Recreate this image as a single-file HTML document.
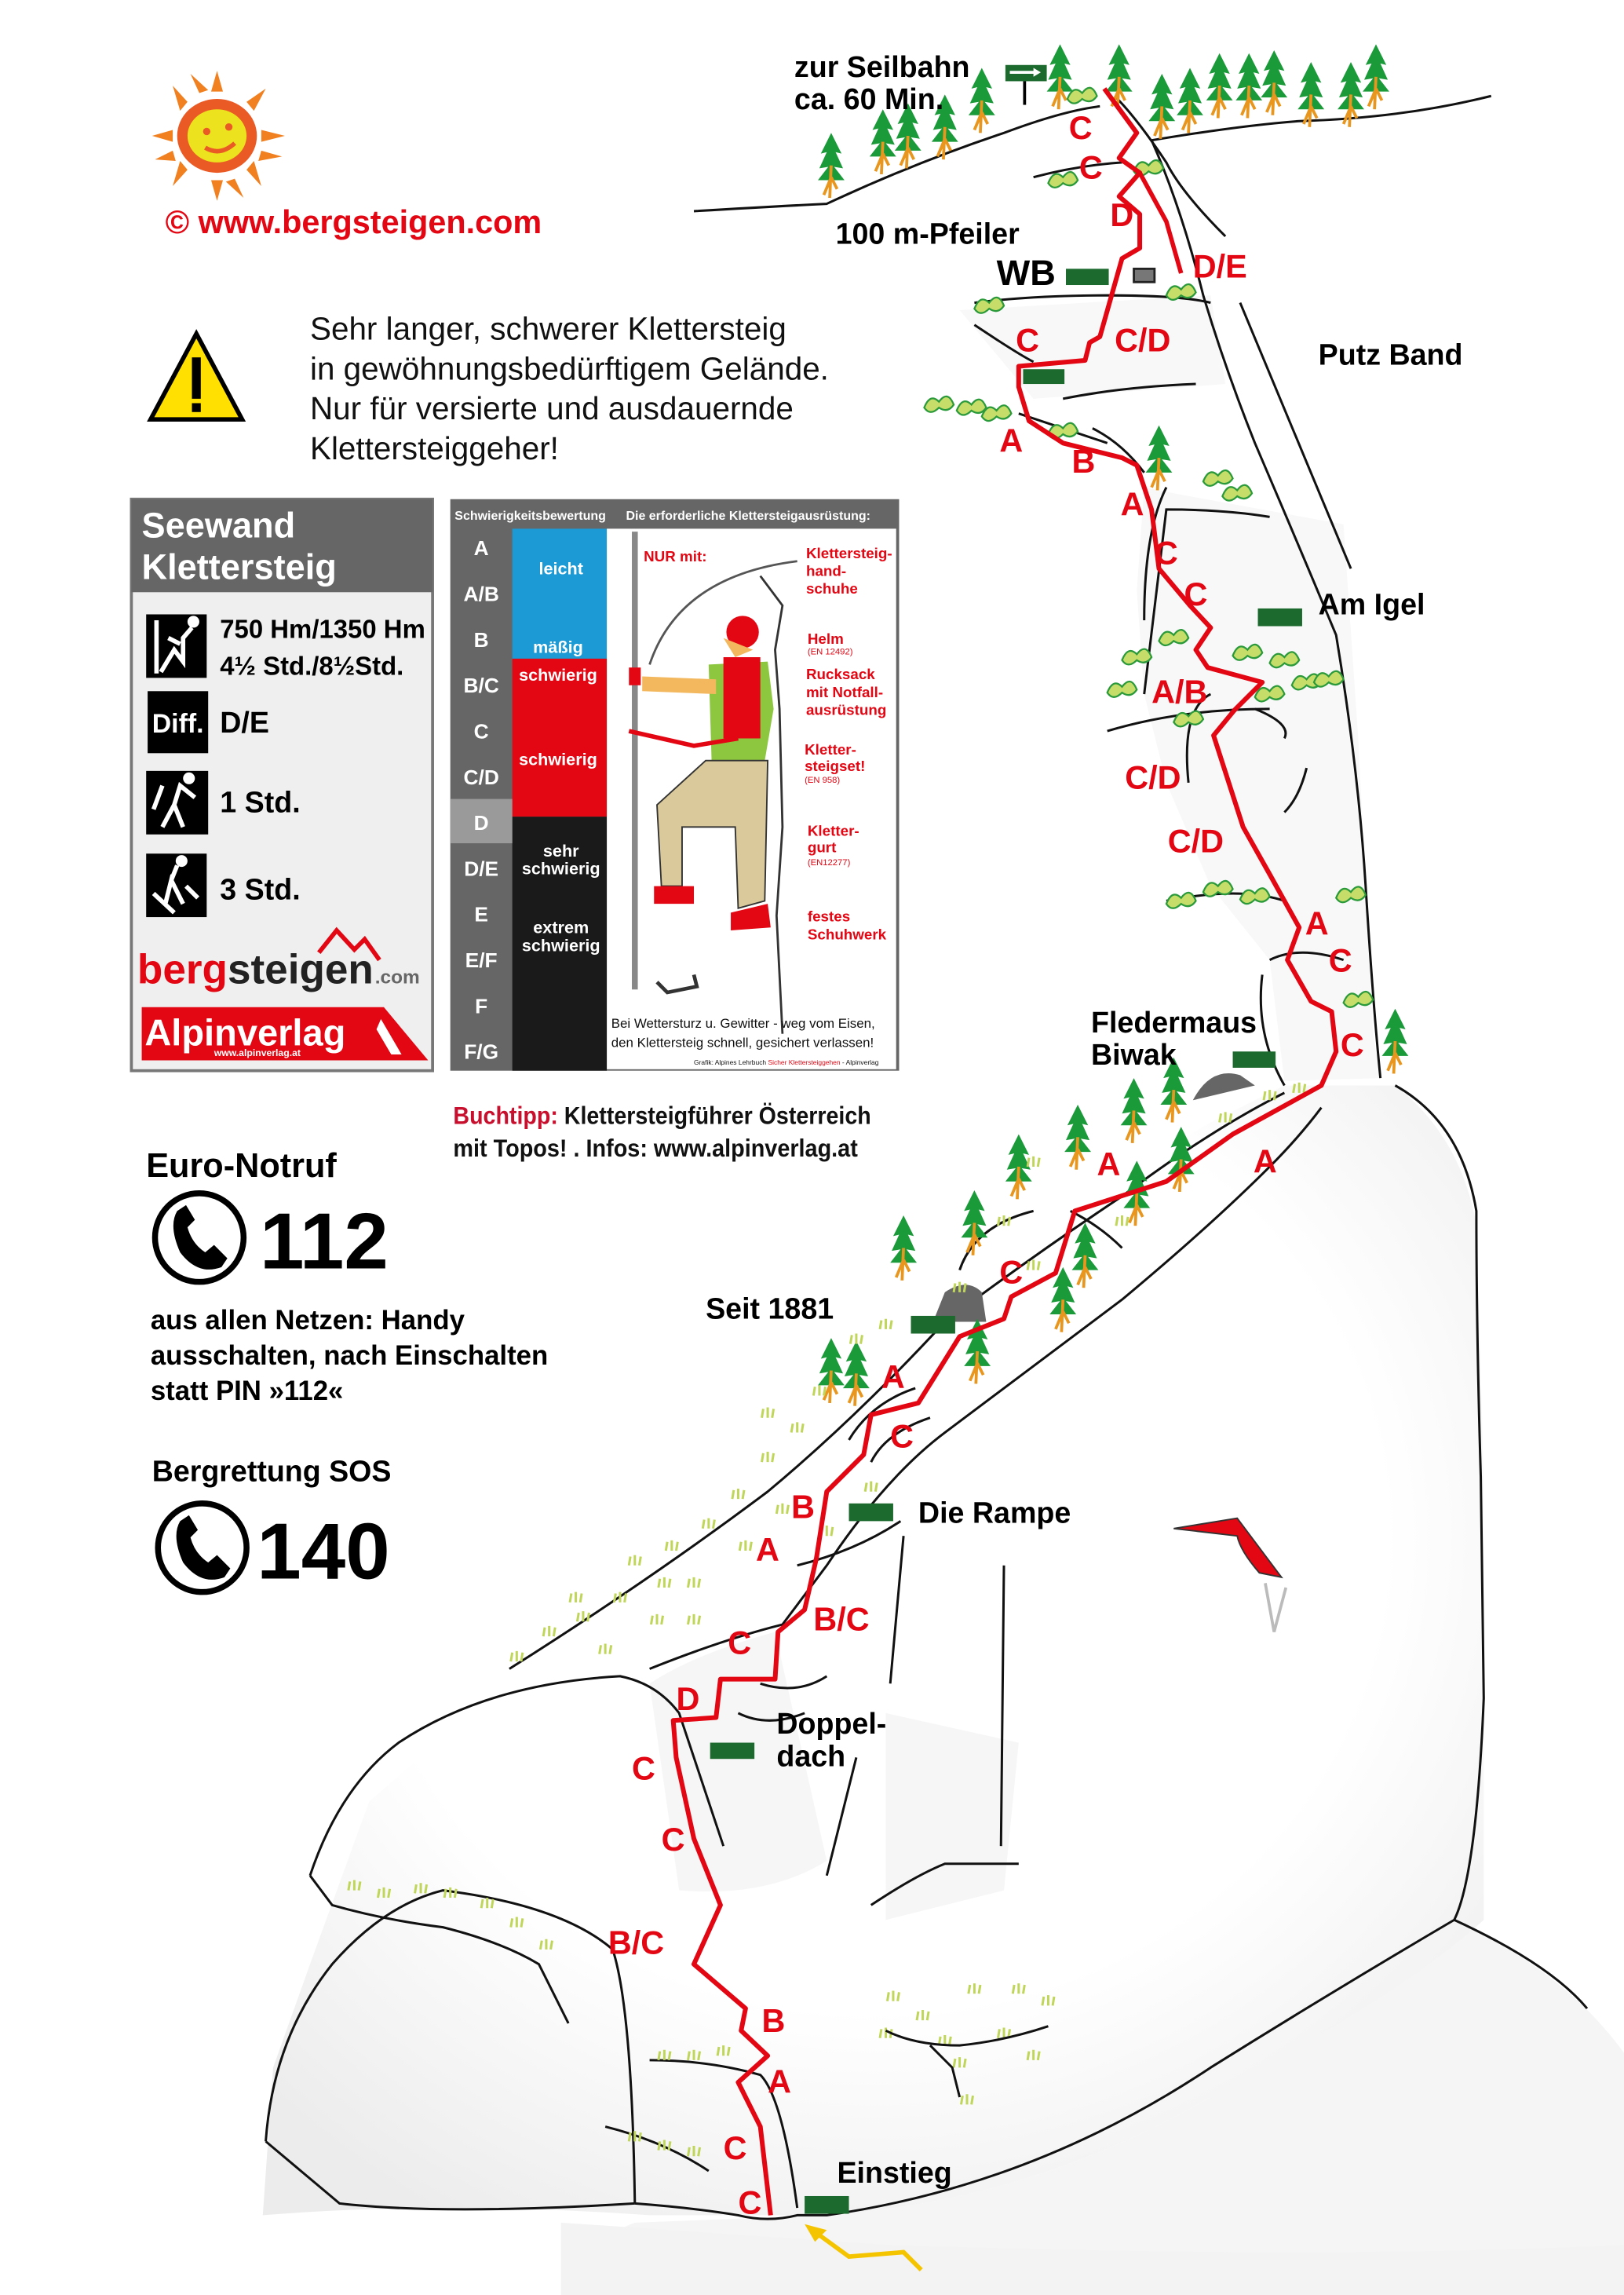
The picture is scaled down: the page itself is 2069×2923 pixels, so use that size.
<!DOCTYPE html>
<html><head><meta charset="utf-8"><style>
html,body{margin:0;padding:0;background:#fff;}
svg{display:block;}
text{font-family:"Liberation Sans",sans-serif;}
.b{font-weight:bold;}
.r{fill:#e30613;font-weight:bold;font-size:22px;}
.k{fill:#000;font-weight:bold;font-size:20px;}
.ln{fill:none;stroke:#111;stroke-width:1.6;}
.gr{fill:#1d6a2e;}
</style></head><body>
<svg width="2069" height="2923" viewBox="0 0 1100 1554" preserveAspectRatio="none" xmlns="http://www.w3.org/2000/svg">
<defs>
<g id="tree"><path d="M0,-22 L-7,-8 L-3,-9 L-8,2 L-2,1 L-9,10 L9,10 L2,1 L8,2 L3,-9 L7,-8 Z" fill="#1b9a3a"/><path d="M0,0 L-1,22 M0,8 L-5,20 M0,8 L4,16" stroke="#e8961e" stroke-width="2" fill="none"/></g>
<g id="bush"><path d="M-10,4 q4,-10 10,-4 q6,-8 10,2 q-4,6 -10,2 q-6,6 -10,0z" fill="#c7dd6a" stroke="#2a9a3a" stroke-width="1.2"/></g>
<g id="gs"><path d="M-4,0 L-3,-6 M0,0 L0,-7 M3,0 L4,-6" stroke="#c0d65a" stroke-width="1.6"/></g>
<radialGradient id="rg" cx="0.5" cy="0.4" r="0.7"><stop offset="0.6" stop-color="#ffffff"/><stop offset="1" stop-color="#ececec"/></radialGradient>
</defs>

<!-- rubble bottom right -->
<path d="M985,1300 Q1060,1335 1100,1390 L1100,1554 L380,1554 Q390,1520 430,1505 L560,1500 Q700,1490 820,1420 Q900,1360 985,1300 Z" fill="#f5f5f5"/>
<path d="M380,1505 L380,1554 L1100,1554 L1100,1520 Q900,1530 600,1520 Z" fill="#f3f3f3"/>
<!-- main rock mass -->
<path d="M178,1500 L185,1400 L210,1330 L250,1220 L330,1150 L345,1130 L420,1090 L500,1020 L560,960 L640,890 L720,820 L820,760 L870,735 L945,735 Q990,770 1000,830 L1005,1000 L1005,1300 Q950,1350 820,1420 Q700,1490 560,1500 L440,1500 Q300,1490 178,1500 Z" fill="url(#rg)" stroke="none"/>
<path d="M440,1140 Q470,1120 525,1105 L560,1260 Q520,1285 460,1280 Z" fill="#f4f4f4" opacity="0.8"/>
<path d="M600,1160 L690,1180 L680,1280 L600,1300 Z" fill="#f4f4f4" opacity="0.8"/>
<!-- outlines -->
<path class="ln" d="M945,735 Q990,760 1000,820 Q1000,900 1003,1000 L1005,1150 Q1000,1270 985,1300 Q900,1350 820,1400 Q700,1480 560,1500 L540,1500 Q520,1505 500,1500 Q470,1495 430,1492"/>
<path class="ln" d="M985,1300 Q1050,1330 1075,1360"/>
<path class="ln" d="M180,1450 Q185,1380 225,1330 Q260,1290 300,1280 Q380,1290 415,1320 Q428,1360 430,1492"/>
<path class="ln" d="M180,1450 L230,1492 Q300,1500 430,1492"/>
<path class="ln" d="M210,1270 Q230,1210 270,1180 Q330,1140 420,1135 Q445,1140 460,1160 L490,1250"/>
<path class="ln" d="M210,1270 L225,1290 Q260,1300 300,1305 Q340,1315 365,1330 L385,1370"/>
<path class="ln" d="M345,1130 Q440,1070 520,1010 Q580,960 640,895 Q700,850 760,810 Q820,765 870,740"/>
<path class="ln" d="M440,1130 Q490,1110 530,1100 L560,1060 Q600,1000 640,970 Q700,925 760,880 Q820,830 860,790 Q880,770 895,750"/>
<path class="ln" d="M540,1060 Q580,1050 610,1030"/>
<path class="ln" d="M612,1040 L603,1140 M680,1060 L678,1250 M580,1190 L560,1270 M590,1290 Q620,1270 640,1262 L690,1262"/>
<path class="ln" d="M440,1395 Q480,1395 515,1405 Q530,1420 540,1495 M410,1440 Q450,1450 480,1470"/>
<path class="ln" d="M500,1160 Q520,1170 545,1160 M515,1140 Q540,1148 560,1135"/>
<path class="ln" d="M575,975 Q590,950 620,940 M590,990 Q600,970 630,960"/>
<path class="ln" d="M650,860 Q660,830 700,820 M725,820 Q745,830 760,845"/>
<path d="M640,875 Q655,865 665,875 L668,895 L632,895 Z" fill="#666"/>
<path d="M808,745 Q820,722 840,728 L850,735 Z" fill="#666"/>
<!-- upper pillar -->
<path d="M775,330 L800,335 L910,355 L920,500 L925,600 L930,700 L935,730 L870,732 L860,650 L820,600 L790,530 L775,470 L770,400 Z" fill="#f8f8f8"/>
<path d="M650,210 L820,200 L830,260 L700,270 Z" fill="#f8f8f8"/>
<path class="ln" d="M780,95 Q800,140 815,200 Q830,250 850,300 Q880,370 905,430 Q920,520 925,600 Q930,680 935,730"/>
<path class="ln" d="M755,65 Q770,80 790,110 Q800,130 830,160"/>
<path class="ln" d="M840,205 L915,385"/>
<path class="ln" d="M790,330 Q775,360 775,420 M775,470 Q780,430 790,345 Q830,345 860,350 M850,480 Q875,490 870,500 M885,520 Q880,540 870,550 M805,530 Q800,480 820,470"/>
<path class="ln" d="M750,495 Q800,480 860,480 M790,610 Q840,600 870,610 M855,660 Q850,700 870,735 M860,650 Q880,640 910,650"/>
<path class="ln" d="M690,280 Q720,290 750,300 M740,290 Q760,300 775,320"/>
<path class="ln" d="M660,205 Q700,200 750,200 Q800,200 820,205 M660,220 Q690,240 700,245 M720,270 Q760,262 810,260"/>
<path class="ln" d="M470,143 Q520,140 560,138 Q620,110 680,90 Q720,75 745,72 M780,95 Q840,85 880,82 Q950,80 1010,65"/>
<path class="ln" d="M700,120 Q730,112 760,110"/>
<!-- trees -->
<use href="#tree" x="563" y="112"/><use href="#tree" x="598" y="96"/><use href="#tree" x="615" y="92"/><use href="#tree" x="640" y="86"/><use href="#tree" x="665" y="68"/><use href="#tree" x="718" y="52"/><use href="#tree" x="758" y="52"/><use href="#tree" x="787" y="72"/><use href="#tree" x="806" y="68"/><use href="#tree" x="826" y="58"/><use href="#tree" x="846" y="58"/><use href="#tree" x="863" y="56"/><use href="#tree" x="888" y="64"/><use href="#tree" x="915" y="64"/><use href="#tree" x="932" y="52"/>
<use href="#tree" x="785" y="310"/><use href="#tree" x="945" y="705"/>
<use href="#tree" x="690" y="790"/><use href="#tree" x="730" y="770"/><use href="#tree" x="768" y="752"/><use href="#tree" x="795" y="738"/><use href="#tree" x="800" y="785"/><use href="#tree" x="770" y="808"/><use href="#tree" x="660" y="828"/><use href="#tree" x="612" y="845"/><use href="#tree" x="735" y="850"/><use href="#tree" x="720" y="880"/><use href="#tree" x="563" y="928"/><use href="#tree" x="580" y="930"/><use href="#tree" x="662" y="915"/>
<!-- bushes -->
<use href="#bush" x="670" y="205"/><use href="#bush" x="800" y="196"/><use href="#bush" x="636" y="272"/><use href="#bush" x="658" y="274"/><use href="#bush" x="675" y="278"/><use href="#bush" x="720" y="290"/><use href="#bush" x="733" y="63"/><use href="#bush" x="720" y="120"/><use href="#bush" x="778" y="112"/><use href="#bush" x="825" y="322"/><use href="#bush" x="838" y="332"/><use href="#bush" x="770" y="443"/><use href="#bush" x="795" y="430"/><use href="#bush" x="760" y="465"/><use href="#bush" x="845" y="440"/><use href="#bush" x="870" y="445"/><use href="#bush" x="885" y="460"/><use href="#bush" x="900" y="458"/><use href="#bush" x="860" y="468"/><use href="#bush" x="805" y="485"/><use href="#bush" x="800" y="608"/><use href="#bush" x="825" y="600"/><use href="#bush" x="850" y="605"/><use href="#bush" x="915" y="604"/><use href="#bush" x="920" y="675"/>
<!-- grass -->
<g>
<use href="#gs" x="350" y="1125"/><use href="#gs" x="372" y="1108"/><use href="#gs" x="395" y="1098"/><use href="#gs" x="420" y="1085"/><use href="#gs" x="445" y="1100"/><use href="#gs" x="410" y="1120"/><use href="#gs" x="390" y="1085"/><use href="#gs" x="430" y="1060"/><use href="#gs" x="455" y="1050"/><use href="#gs" x="470" y="1075"/><use href="#gs" x="480" y="1035"/><use href="#gs" x="500" y="1015"/><use href="#gs" x="505" y="1050"/><use href="#gs" x="520" y="990"/><use href="#gs" x="530" y="1025"/><use href="#gs" x="540" y="970"/><use href="#gs" x="520" y="960"/><use href="#gs" x="555" y="945"/><use href="#gs" x="580" y="910"/><use href="#gs" x="600" y="900"/><use href="#gs" x="470" y="1100"/><use href="#gs" x="450" y="1075"/><use href="#gs" x="560" y="1040"/><use href="#gs" x="590" y="1010"/><use href="#gs" x="680" y="830"/><use href="#gs" x="700" y="860"/><use href="#gs" x="760" y="830"/><use href="#gs" x="830" y="760"/><use href="#gs" x="860" y="745"/><use href="#gs" x="880" y="740"/><use href="#gs" x="650" y="875"/><use href="#gs" x="700" y="790"/>
<use href="#gs" x="240" y="1280"/><use href="#gs" x="260" y="1285"/><use href="#gs" x="285" y="1282"/><use href="#gs" x="305" y="1285"/><use href="#gs" x="330" y="1292"/><use href="#gs" x="350" y="1305"/><use href="#gs" x="370" y="1320"/>
<use href="#gs" x="450" y="1395"/><use href="#gs" x="470" y="1395"/><use href="#gs" x="490" y="1392"/><use href="#gs" x="430" y="1450"/><use href="#gs" x="450" y="1456"/><use href="#gs" x="470" y="1460"/>
<use href="#gs" x="605" y="1355"/><use href="#gs" x="625" y="1368"/><use href="#gs" x="660" y="1350"/><use href="#gs" x="690" y="1350"/><use href="#gs" x="710" y="1358"/><use href="#gs" x="600" y="1380"/><use href="#gs" x="640" y="1385"/><use href="#gs" x="680" y="1380"/><use href="#gs" x="700" y="1395"/><use href="#gs" x="650" y="1400"/><use href="#gs" x="655" y="1425"/>
</g>
<path class="ln" d="M600,1375 Q620,1385 650,1385 Q680,1382 710,1372 M630,1385 L645,1400 L650,1420"/>
<!-- route -->
<path d="M522,1500 L515,1440 L500,1410 L520,1392 L502,1375 L505,1360 L470,1330 L488,1290 L470,1245 L458,1190 L456,1165 L485,1163 L488,1137 L525,1137 L527,1105 L545,1090 L553,1055 L560,1010 L585,985 L590,958 L622,950 L650,905 L680,893 L685,878 L715,862 L728,820 L790,800 L835,768 L895,735 L905,712 L902,685 L888,678 L872,650 L880,628 L860,592 L842,560 L822,498 L836,481 L855,462 L818,452 L810,440 L820,425 L806,410 L785,385 L780,345 L770,315 L760,310 L720,300 L697,285 L690,262 L690,248 L735,244 L738,232 L745,228 L760,175 L772,168 L772,145 L758,133 L772,117 L758,107 L770,90 L748,60" fill="none" stroke="#e30613" stroke-width="3.2" stroke-linejoin="round"/>
<path d="M772,117 L790,150 L800,185" fill="none" stroke="#e30613" stroke-width="3" stroke-linejoin="round"/>
<!-- green markers -->
<rect class="gr" x="681" y="44" width="28" height="11"/><path d="M684,49 L702,49" stroke="#fff" stroke-width="2"/><path d="M700,46 L705,49 L700,52" fill="#fff"/><rect x="693" y="55" width="2" height="16" fill="#000"/>
<rect class="gr" x="722" y="182" width="29" height="11"/><rect x="768" y="182" width="14" height="9" fill="#777" stroke="#222" stroke-width="1.5"/>
<rect class="gr" x="693" y="250" width="28" height="10"/><rect class="gr" x="852" y="412" width="30" height="12"/>
<rect class="gr" x="835" y="712" width="29" height="11"/><rect class="gr" x="617" y="891" width="30" height="12"/>
<rect class="gr" x="575" y="1018" width="30" height="12"/><rect class="gr" x="481" y="1180" width="30" height="11"/><rect class="gr" x="545" y="1487" width="30" height="12"/>
<!-- flag -->
<path d="M795,1035 L838,1028 L868,1068 L853,1065 Q840,1050 838,1040 Z" fill="#e30613" stroke="#333" stroke-width="1"/>
<path d="M857,1072 L863,1105 L871,1075" fill="none" stroke="#bbb" stroke-width="2"/>
<!-- yellow arrow -->
<path d="M624,1537 L612,1525 L575,1528 L553,1512" fill="none" stroke="#f5c400" stroke-width="3"/><path d="M545,1506 L560,1510 L552,1518 Z" fill="#f5c400"/>
<!-- route labels -->
<g class="r">
<text x="724" y="94">C</text><text x="731" y="121">C</text><text x="752" y="153">D</text><text x="808" y="188">D/E</text>
<text x="688" y="238">C</text><text x="755" y="238">C/D</text><text x="677" y="306">A</text><text x="726" y="320">B</text><text x="759" y="349">A</text>
<text x="782" y="382">C</text><text x="802" y="410">C</text><text x="780" y="476">A/B</text><text x="762" y="534">C/D</text><text x="791" y="577">C/D</text>
<text x="884" y="633">A</text><text x="900" y="658">C</text><text x="908" y="715">C</text>
<text x="743" y="796">A</text><text x="849" y="794">A</text><text x="677" y="869">C</text><text x="597" y="940">A</text><text x="603" y="980">C</text>
<text x="536" y="1028">B</text><text x="512" y="1057">A</text><text x="551" y="1104">B/C</text><text x="493" y="1120">C</text><text x="458" y="1158">D</text>
<text x="428" y="1205">C</text><text x="448" y="1253">C</text><text x="412" y="1323">B/C</text><text x="516" y="1376">B</text><text x="520" y="1417">A</text>
<text x="490" y="1462">C</text><text x="500" y="1499">C</text>
</g>
<g class="k">
<text x="538" y="52">zur Seilbahn</text><text x="538" y="74">ca. 60 Min.</text>
<text x="566" y="165">100 m-Pfeiler</text><text x="675" y="193" font-size="24">WB</text>
<text x="893" y="247">Putz Band</text><text x="893" y="416">Am Igel</text>
<text x="739" y="699">Fledermaus</text><text x="739" y="721">Biwak</text>
<text x="478" y="893">Seit 1881</text><text x="622" y="1031">Die Rampe</text>
<text x="526" y="1174">Doppel-</text><text x="526" y="1196">dach</text><text x="567" y="1478">Einstieg</text>
</g>
<!-- sun -->
<g transform="translate(147,92)">
<g fill="#f08020">
<path d="M-4,-30 L0,-44 L4,-30Z"/><path d="M-4,30 L0,44 L4,30Z"/><path d="M-30,-4 L-44,0 L-30,4Z"/><path d="M30,-4 L46,0 L30,4Z"/>
<path d="M20,-23 L33,-32 L25,-17Z"/><path d="M-20,-23 L-30,-34 L-25,-17Z"/><path d="M20,23 L30,34 L25,17Z"/><path d="M-20,23 L-30,34 L-25,17Z"/>
<path d="M-12,-29 L-18,-42 L-6,-31Z"/><path d="M12,29 L18,42 L6,31Z"/><path d="M30,10 L44,14 L28,17Z"/><path d="M-30,10 L-42,16 L-28,17Z"/>
</g>
<ellipse rx="27" ry="25" fill="#ea5a25"/><ellipse rx="20" ry="18" fill="#ece21e"/>
<circle cx="-7" cy="-3" r="2.5" fill="#ea5a25"/><circle cx="8" cy="-6" r="2.5" fill="#ea5a25"/><path d="M-8,8 Q2,14 12,5" stroke="#ea5a25" stroke-width="3" fill="none"/>
</g>
<text x="112" y="158" fill="#e30613" font-size="22" class="b">©  www.bergsteigen.com</text>
<!-- warning -->
<path d="M133,226 L164,284 L102,284 Z" fill="#ffe000" stroke="#000" stroke-width="3"/>
<rect x="130" y="242" width="6" height="28" fill="#000"/><rect x="130" y="273" width="6" height="6" fill="#000"/>
<g font-size="21.5" fill="#111"><text x="210" y="230">Sehr langer, schwerer Klettersteig</text><text x="210" y="257">in gewöhnungsbedürftigem Gelände.</text><text x="210" y="284">Nur für versierte und ausdauernde</text><text x="210" y="311">Klettersteiggeher!</text></g>
<!-- left box -->
<rect x="89" y="338" width="204" height="387" fill="#efefef" stroke="#777" stroke-width="2"/>
<rect x="89" y="338" width="204" height="63" fill="#666"/>
<text x="96" y="364" fill="#fff" font-size="24" class="b">Seewand</text><text x="96" y="392" fill="#fff" font-size="24" class="b">Klettersteig</text>
<rect x="99" y="416" width="41" height="43" fill="#000"/><path d="M106,420 L106,456 M109,455 L118,440 L124,448 L124,432 L130,425 M114,432 L122,436" stroke="#fff" stroke-width="3" fill="none"/><circle cx="131" cy="421" r="4" fill="#fff"/>
<text x="149" y="432" font-size="17.5" class="b">750 Hm/1350 Hm</text><text x="149" y="457" font-size="17.5" class="b">4½ Std./8½Std.</text>
<rect x="100" y="468" width="41" height="42" fill="#000"/><text x="103" y="496" fill="#fff" font-size="18" class="b">Diff.</text><text x="149" y="496" font-size="20" class="b">D/E</text>
<rect x="99" y="522" width="42" height="43" fill="#000"/><path d="M110,560 L118,545 L124,560 M118,545 L122,532 L132,540 M104,548 L110,532" stroke="#fff" stroke-width="3" fill="none"/><circle cx="128" cy="527" r="4" fill="#fff"/>
<text x="149" y="550" font-size="20" class="b">1 Std.</text>
<rect x="99" y="578" width="41" height="43" fill="#000"/><path d="M104,605 L118,618 M112,612 L116,596 L124,612 M116,596 L120,586 M126,600 L134,608" stroke="#fff" stroke-width="3" fill="none"/><circle cx="123" cy="583" r="4" fill="#fff"/>
<text x="149" y="609" font-size="20" class="b">3 Std.</text>
<path d="M216,645 L228,630 L240,643 L247,636 L257,650" fill="none" stroke="#e30613" stroke-width="3"/>
<text x="93" y="666" font-size="28" class="b" textLength="160" lengthAdjust="spacingAndGlyphs"><tspan fill="#e30613">berg</tspan><tspan fill="#222">steigen</tspan></text>
<text x="254" y="666" font-size="13" class="b" fill="#666">.com</text>
<path d="M96,682 L260,682 L290,718 L96,718 Z" fill="#e30613"/>
<text x="98" y="708" font-size="25" class="b" fill="#fff">Alpinverlag</text><text x="145" y="715" font-size="6.5" class="b" fill="#fff">www.alpinverlag.at</text>
<path d="M258,690 L272,714 L265,714 L255,697 Z" fill="#fff"/>
<!-- scale table -->
<rect x="305" y="338" width="304" height="387" fill="#666"/>
<rect x="411" y="358" width="196" height="366" fill="#fff"/>
<rect x="347" y="358" width="64" height="88" fill="#1c9ad6"/><rect x="347" y="446" width="64" height="107" fill="#e30613"/><rect x="347" y="553" width="64" height="172" fill="#1a1a1a"/>
<rect x="305" y="541" width="42" height="30" fill="#9a9a9a"/>
<g fill="#fff" font-size="8.5" class="b"><text x="308" y="352">Schwierigkeitsbewertung</text><text x="424" y="352">Die erforderliche Klettersteigausrüstung:</text></g>
<g fill="#fff" font-size="14" class="b" text-anchor="middle">
<text x="326" y="376">A</text><text x="326" y="407">A/B</text><text x="326" y="438">B</text><text x="326" y="469">B/C</text><text x="326" y="500">C</text><text x="326" y="531">C/D</text><text x="326" y="562">D</text><text x="326" y="593">D/E</text><text x="326" y="624">E</text><text x="326" y="655">E/F</text><text x="326" y="686">F</text><text x="326" y="717">F/G</text>
</g>
<g fill="#fff" font-size="11.5" class="b" text-anchor="middle">
<text x="380" y="389">leicht</text><text x="378" y="442">mäßig</text><text x="378" y="461">schwierig</text><text x="378" y="518">schwierig</text><text x="380" y="580">sehr</text><text x="380" y="592">schwierig</text><text x="380" y="632">extrem</text><text x="380" y="644">schwierig</text>
</g>
<text x="436" y="380" fill="#e30613" font-size="10" class="b">NUR mit:</text>
<g fill="#e30613" font-size="10" class="b"><text x="546" y="378">Klettersteig-</text><text x="546" y="390">hand-</text><text x="546" y="402">schuhe</text>
<text x="547" y="436">Helm</text><text x="546" y="460">Rucksack</text><text x="546" y="472">mit Notfall-</text><text x="546" y="484">ausrüstung</text>
<text x="545" y="511">Kletter-</text><text x="545" y="522">steigset!</text><text x="547" y="566">Kletter-</text><text x="547" y="577">gurt</text><text x="547" y="624">festes</text><text x="547" y="636">Schuhwerk</text></g>
<g fill="#e30613" font-size="6"><text x="547" y="443">(EN 12492)</text><text x="545" y="530">(EN 958)</text><text x="547" y="586">(EN12277)</text></g>
<rect x="428" y="360" width="4" height="310" fill="#888"/>
<path d="M515,390 L530,410 L525,440 L528,480 L530,560 L526,620 L530,700" fill="none" stroke="#333" stroke-width="1.5"/>
<path d="M540,380 Q460,390 440,450" fill="none" stroke="#555" stroke-width="1.5"/>
<circle cx="503" cy="428" r="11" fill="#e30613"/><path d="M490,432 L498,445 L510,440 Z" fill="#f3b85e"/>
<path d="M480,450 L520,448 L524,480 L518,515 L482,515 Z" fill="#8dc63f"/><rect x="490" y="445" width="25" height="55" fill="#e30613"/>
<path d="M435,458 L485,460 L485,470 L435,468 Z" fill="#f3b85e"/><rect x="426" y="452" width="8" height="12" fill="#e30613"/>
<path d="M478,515 L520,515 L518,610 L500,615 L498,560 L478,560 L462,560 L462,600 L448,600 L445,545 Z" fill="#dac99a" stroke="#333" stroke-width="1"/>
<path d="M443,600 L470,600 L470,612 L443,612 Z" fill="#e30613"/><path d="M495,618 L520,612 L522,628 L495,630 Z" fill="#e30613"/>
<path d="M426,495 L470,505 L500,500" fill="none" stroke="#e30613" stroke-width="3"/>
<path d="M445,665 L452,672 L472,668 L470,660" fill="none" stroke="#333" stroke-width="2.5"/>
<g font-size="9" fill="#111"><text x="414" y="696">Bei Wettersturz u. Gewitter - weg vom Eisen,</text><text x="414" y="709">den Klettersteig schnell, gesichert verlassen!</text></g>
<text x="470" y="721" font-size="4.5" fill="#111">Grafik: Alpines Lehrbuch <tspan fill="#e30613">Sicher Klettersteiggehen</tspan> - Alpinverlag</text>
<!-- buchtipp -->
<text x="307" y="761" font-size="16.5" fill="#111" class="b" textLength="283" lengthAdjust="spacingAndGlyphs"><tspan fill="#c8102e">Buchtipp:</tspan> Klettersteigführer Österreich</text>
<text x="307" y="783" font-size="16.5" fill="#111" class="b" textLength="274" lengthAdjust="spacingAndGlyphs">mit Topos! . Infos: www.alpinverlag.at</text>
<!-- emergency -->
<text x="99" y="797" font-size="23" class="b">Euro-Notruf</text>
<circle cx="135" cy="838" r="30" fill="none" stroke="#000" stroke-width="4"/>
<path d="M120,820 Q114,830 122,848 Q134,864 150,858 L154,852 L145,843 L139,848 Q130,842 127,831 L132,826 L126,816 Z" fill="#000"/>
<text x="176" y="859" font-size="54" class="b">112</text>
<g font-size="18.5" class="b"><text x="102" y="900">aus allen Netzen: Handy</text><text x="102" y="924">ausschalten, nach Einschalten</text><text x="102" y="948">statt PIN »112«</text></g>
<text x="103" y="1003" font-size="20" class="b" textLength="162" lengthAdjust="spacingAndGlyphs">Bergrettung SOS</text>
<circle cx="137" cy="1048" r="30" fill="none" stroke="#000" stroke-width="4"/>
<path d="M122,1030 Q116,1040 124,1058 Q136,1074 152,1068 L156,1062 L147,1053 L141,1058 Q132,1052 129,1041 L134,1036 L128,1026 Z" fill="#000"/>
<text x="174" y="1069" font-size="54" class="b">140</text>
</svg>
</body></html>
